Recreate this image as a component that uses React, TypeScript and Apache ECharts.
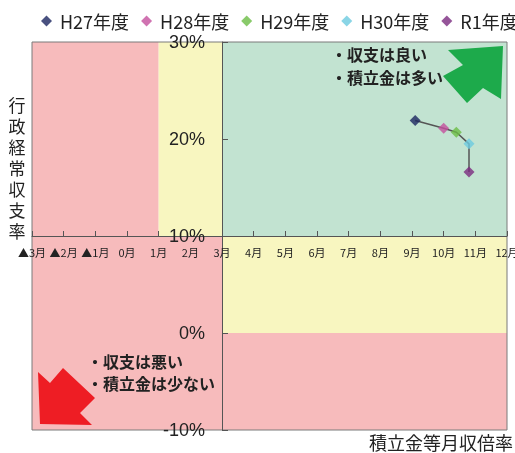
import React, { useEffect, useRef } from "react";
import * as echarts from "echarts";

// Fiscal years and their (reserve months, operating balance ratio %) readings
const years = ["H27年度", "H28年度", "H29年度", "H30年度", "R1年度"];
const reserveMonths = [9.1, 10.0, 10.4, 10.8, 10.8];
const balanceRatio = [21.9, 21.1, 20.7, 19.5, 16.6];
const yearColors = ["#1B2660", "#C4509E", "#6BBD45", "#6DCBE0", "#7B2A80"];

// Axis extents and the point where the two axes cross
const xMin = -3;
const xMax = 12;
const yMin = -10;
const yMax = 30;
const xCross = 3;
const yCross = 10;

// Quadrant shading: [x0, x1, y0, y1, colour]
const PINK = "#F7BBBC";
const YELLOW = "#F8F6C0";
const GREEN = "#C2E3D1";
const regions: [number, number, number, number, string][] = [
  [-3, 1, 10, 30, PINK],
  [1, 3, 10, 30, YELLOW],
  [3, 12, 10, 30, GREEN],
  [-3, 3, -10, 10, PINK],
  [3, 12, 0, 10, YELLOW],
  [3, 12, -10, 0, PINK],
];

const JP = "'Noto Sans CJK JP', 'Noto Sans', sans-serif";
const NARROW = "'Liberation Sans Narrow', 'Liberation Sans', Arial, sans-serif";

const WIDTH = 515;
const HEIGHT = 453;
const GRID = { left: 32, right: 8, top: 42, bottom: 23 };
const plotW = WIDTH - GRID.left - GRID.right;
const plotH = HEIGHT - GRID.top - GRID.bottom;
// Shift each axis from its default edge to the crossing value
const xAxisOffset = -((yCross - yMin) / (yMax - yMin)) * plotH;
const yAxisOffset = -((xCross - xMin) / (xMax - xMin)) * plotW;

export default function App() {
  const ref = useRef<HTMLDivElement>(null);

  useEffect(() => {
    if (!ref.current) return;
    const chart = echarts.init(ref.current, undefined, { renderer: "svg" });

    const points = years.map((_, i) => [reserveMonths[i], balanceRatio[i]]);

    const scatterSeries = years.map((name, i) => ({
      name,
      type: "scatter",
      symbol: "diamond",
      symbolSize: 11,
      z: 10,
      itemStyle: { color: yearColors[i] },
      data: [points[i]],
    }));

    chart.setOption({
      animation: false,
      grid: {
        ...GRID,
        outerBoundsMode: "none",
        containLabel: false,
        show: true,
        borderColor: "#7a7a7a",
        borderWidth: 1,
        backgroundColor: "transparent",
        z: 5,
      },
      legend: {
        left: 36,
        top: 7,
        width: 800,
        icon: "diamond",
        itemWidth: 11,
        itemHeight: 11,
        itemGap: 12,
        data: years,
        textStyle: { fontSize: 18, fontFamily: JP, color: "#222", padding: [0, 0, 0, 3] },
      },
      xAxis: {
        type: "value",
        min: xMin,
        max: xMax,
        interval: 1,
        position: "bottom",
        offset: xAxisOffset,
        z: 6,
        axisLine: { onZero: false, lineStyle: { color: "#555", width: 1 } },
        axisTick: { show: true, inside: true, length: 5, lineStyle: { color: "#555" } },
        splitLine: { show: false },
        axisLabel: {
          interval: 0,
          margin: 10,
          fontSize: 11,
          fontFamily: JP,
          color: "#222",
          formatter: (v: number) => (v < 0 ? "▲" + -v + "月" : v + "月"),
        },
      },
      yAxis: {
        type: "value",
        min: yMin,
        max: yMax,
        interval: 10,
        position: "left",
        offset: yAxisOffset,
        z: 6,
        axisLine: { onZero: false, lineStyle: { color: "#555", width: 1 } },
        axisTick: { show: true, inside: true, length: 6, lineStyle: { color: "#555" } },
        splitLine: { show: false },
        axisLabel: {
          margin: 17,
          fontSize: 18,
          fontFamily: NARROW,
          color: "#222",
          formatter: (v: number) => v + "%",
        },
      },
      graphic: [
        {
          type: "polygon",
          z: 20,
          shape: {
            points: [
              [448, 50], [503, 46], [501, 99], [483, 88], [467, 103], [443, 76], [463, 65],
            ],
          },
          style: { fill: "#1DAA4B" },
        },
        {
          type: "polygon",
          z: 20,
          shape: {
            points: [
              [40, 424], [38, 372], [50, 383], [63, 368], [95, 398], [80, 413], [92, 425],
            ],
          },
          style: { fill: "#EE1D24" },
        },
        {
          type: "text",
          z: 21,
          x: 331,
          y: 65,
          style: {
            text: "・収支は良い\n・積立金は多い",
            font: `bold 16px ${JP}`,
            fill: "#222",
            lineHeight: 23,
            verticalAlign: "middle",
          },
        },
        {
          type: "text",
          z: 21,
          x: 87,
          y: 372,
          style: {
            text: "・収支は悪い\n・積立金は少ない",
            font: `bold 16px ${JP}`,
            fill: "#222",
            lineHeight: 22,
            verticalAlign: "middle",
          },
        },
        {
          type: "text",
          z: 21,
          x: 17,
          y: 94,
          style: {
            text: "行政経常収支率".split("").join("\n"),
            font: `17px ${JP}`,
            fill: "#222",
            lineHeight: 21,
            align: "center",
          },
        },
        {
          type: "text",
          z: 21,
          x: 369,
          y: 442,
          style: {
            text: "積立金等月収倍率",
            font: `18px ${JP}`,
            fill: "#222",
            verticalAlign: "middle",
          },
        },
      ],
      series: [
        {
          type: "line",
          name: "_regions",
          data: [],
          z: 1,
          silent: true,
          markArea: {
            silent: true,
            data: regions.map(([x0, x1, y0, y1, c]) => [
              { xAxis: x0, yAxis: y0, itemStyle: { color: c, opacity: 1 } },
              { xAxis: x1, yAxis: y1 },
            ]),
          },
        },
        {
          type: "line",
          name: "_path",
          data: points,
          z: 8,
          symbol: "none",
          silent: true,
          lineStyle: { color: "#555", width: 1.5 },
        },
        ...scatterSeries,
      ],
    });

    return () => chart.dispose();
  }, []);

  return (
    <div
      ref={ref}
      style={{ position: "fixed", left: 0, top: 0, width: WIDTH, height: HEIGHT }}
    />
  );
}
